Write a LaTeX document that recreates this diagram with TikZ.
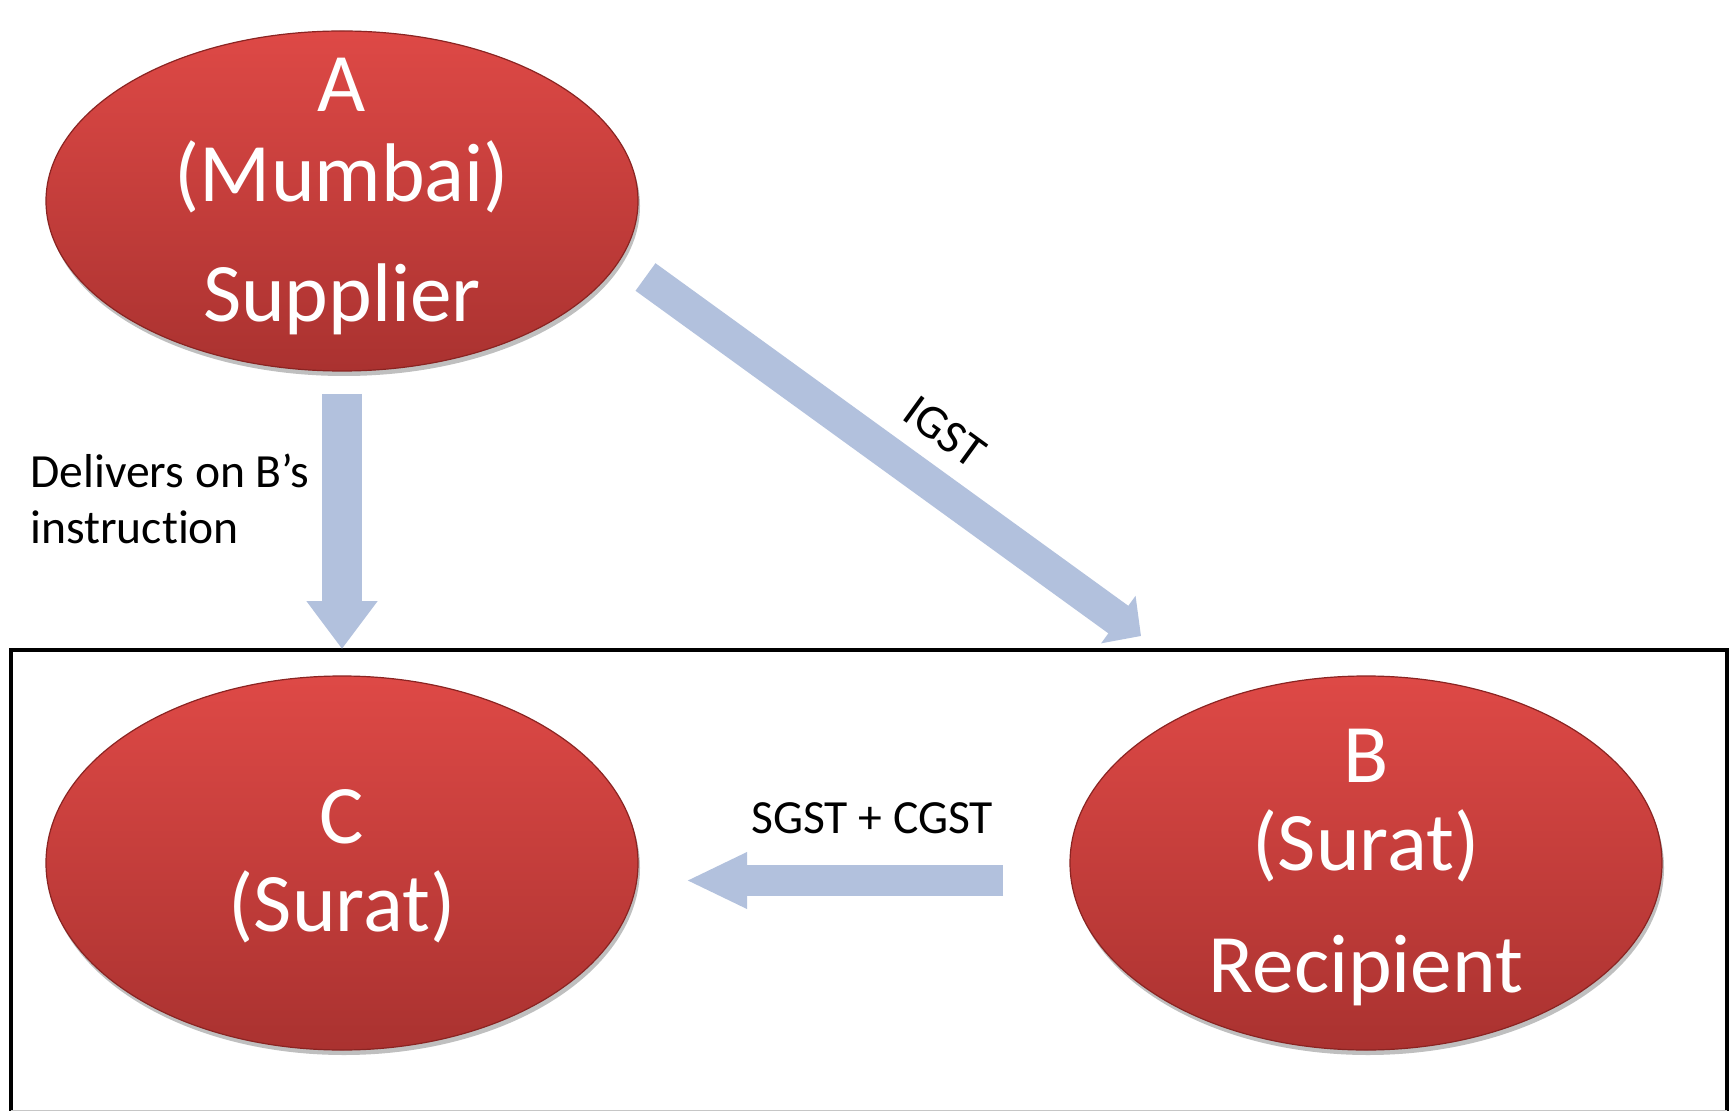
\documentclass[tikz,border=0pt]{standalone}
\usepackage{fontspec}
\setmainfont{Carlito}[Ligatures={NoCommon}]
\usetikzlibrary{shapes.geometric,arrows.meta,shadows}

\definecolor{partytop}{RGB}{222,73,70}
\definecolor{partybot}{RGB}{170,50,48}
\definecolor{partyedge}{RGB}{138,36,34}
\definecolor{flowblue}{RGB}{178,193,221}

\begin{document}
\begin{tikzpicture}[x=0.5pt,y=-0.5pt,
  party/.style={ellipse, inner sep=0pt, minimum width=296pt,
    top color=partytop, bottom color=partybot,
    draw=partyedge, line width=0.6pt,
    drop shadow={shadow xshift=1pt, shadow yshift=-2.5pt, opacity=0.25, fill=black}},
  bigtext/.style={text=white, font=\fontsize{41.6}{50}\selectfont, anchor=base, inner sep=0pt},
  smalltext/.style={text=black, font=\fontsize{23.8}{28}\selectfont, inner sep=0pt},
  flow/.style={draw=flowblue, line cap=butt},
]
\useasboundingbox (0,0) rectangle (1732,1111);
\fill[white] (0,0) rectangle (1732,1111);

% frame around the two Surat parties
\draw[line width=2pt, line join=miter] (11,1114) -- (11,650) -- (1727,650) -- (1727,1114);
\draw[gray!45, line width=0.5pt] (11,1110) -- (1727,1110);

% parties
\node[party, minimum height=170pt] (a) at (342,201) {};
\node[party, minimum height=187pt] (c) at (342,863) {};
\node[party, minimum height=187pt] (b) at (1366,863) {};

\node[bigtext] (a1) at (342,112) {A};
\node[bigtext] (a2) at (342,202) {(Mumbai)};
\node[bigtext] (a3) at (342,322) {Supplier};

\node[bigtext] (c1) at (342,843) {C};
\node[bigtext] (c2) at (342,931) {(Surat)};

\node[bigtext] (b1) at (1366,782) {B};
\node[bigtext] (b2) at (1366,870) {(Surat)};
\node[bigtext] (b3) at (1366,992) {Recipient};

% flows
\coordinate (dtail) at (342,394);
\coordinate (dtip)  at (342,649);
\draw[flow, line width=20pt, -{Triangle[length=24pt,width=34pt]}] (dtail) -- (dtip);

\coordinate (itail) at (645.5,277);
\coordinate (itip)  at (1141,636);
\draw[flow, line width=17pt, -{Triangle[length=14pt,width=28.5pt]}] (itail) -- (itip);

\coordinate (stail) at (1003,880.5);
\coordinate (stip)  at (686,880.5);
\draw[flow, line width=15.5pt, -{Triangle[length=30.5pt,width=26pt]}] (stail) -- (stip);

% flow labels
\node[smalltext, anchor=base west] (dl1) at (30,488) {Delivers on B’s};
\node[smalltext, anchor=base west] (dl2) at (30,544) {instruction};
\node[smalltext, rotate=-36] (igst) at (945,432) {IGST};
\node[smalltext, anchor=base] (sc) at (872,833) {SGST + CGST};
\end{tikzpicture}
\end{document}
